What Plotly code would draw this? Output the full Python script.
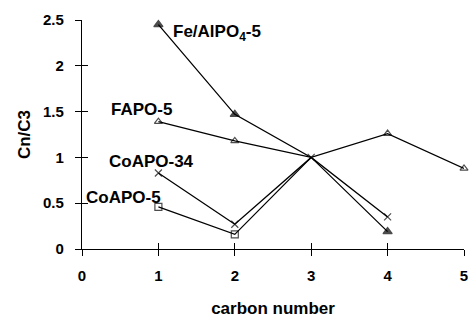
import plotly.graph_objects as go

carbon = [1, 2, 3, 4, 5]
fe_alpo = [2.45, 1.47, 1.0, 0.19]
fapo5 = [1.39, 1.18, 1.0, 1.26, 0.88]
coapo34 = [0.83, 0.27, 1.0, 0.35]
coapo5 = [0.46, 0.16, 1.0]

labels = ["Fe/AlPO<sub>4</sub>-5", "FAPO-5", "CoAPO-34", "CoAPO-5"]
label_pos = [(1.17, 2.36), (0.35, 1.52), (0.33, 0.95), (0.03, 0.565)]

FONT = "Liberation Sans, Arial, sans-serif"

fig = go.Figure()
series = [
    (fe_alpo, "triangle-up", [8, 8, 0, 8]),
    (fapo5, "triangle-up-open", [7, 7, 0, 7, 7]),
    (coapo34, "x-thin-open", [7, 7, 7, 7]),
    (coapo5, "square-open", [7, 7, 0]),
]
for ys, sym, sz in series:
    fig.add_trace(go.Scatter(
        x=carbon[:len(ys)], y=ys, mode="lines+markers",
        line=dict(color="black", width=1.3),
        marker=dict(symbol=sym, size=sz, color="black",
                    line=dict(color="black", width=1.2)),
        cliponaxis=False, showlegend=False,
    ))

# invisible trace for the overlay axes (inner half of crossing ticks)
fig.add_trace(go.Scatter(x=[0], y=[0], xaxis="x2", yaxis="y2",
                         mode="markers", marker=dict(opacity=0),
                         showlegend=False, hoverinfo="skip"))

for txt, (lx, ly) in zip(labels, label_pos):
    fig.add_annotation(x=lx, y=ly, text="<b>" + txt + "</b>", showarrow=False,
                       xanchor="left", yanchor="middle",
                       font=dict(family=FONT, size=17, color="black"))

fig.update_layout(
    width=474, height=320,
    margin=dict(l=82, r=6, t=20, b=70),
    plot_bgcolor="white", paper_bgcolor="white",
    font=dict(family=FONT, size=15, color="black"),
    xaxis=dict(range=[0, 5], tickvals=[0, 1, 2, 3, 4, 5],
               showgrid=False, zeroline=False, showline=True,
               linecolor="black", linewidth=1.3,
               ticks="outside", ticklen=6, tickwidth=1.2, tickcolor="black",
               ticklabelstandoff=7,
               tickfont=dict(family=FONT, size=15, color="black", weight="bold"),
               title=dict(text="<b>carbon number</b>", standoff=18,
                          font=dict(family=FONT, size=17, color="black"))),
    yaxis=dict(range=[0, 2.5], tickvals=[0, 0.5, 1, 1.5, 2, 2.5],
               showgrid=False, zeroline=False, showline=True,
               linecolor="black", linewidth=1.3,
               ticks="outside", ticklen=6, tickwidth=1.2, tickcolor="black",
               ticklabelstandoff=8,
               tickfont=dict(family=FONT, size=15, color="black", weight="bold"),
               title=dict(text="<b>Cn/C3</b>", standoff=8,
                          font=dict(family=FONT, size=17, color="black"))),
    xaxis2=dict(range=[0, 5], tickvals=[0, 1, 2, 3, 4, 5], overlaying="x",
                anchor="y2", side="bottom", showgrid=False, zeroline=False,
                showline=False, ticks="inside", ticklen=6, tickwidth=1.2,
                tickcolor="black", showticklabels=False),
    yaxis2=dict(range=[0, 2.5], tickvals=[0, 0.5, 1, 1.5, 2, 2.5],
                overlaying="y", anchor="x2", side="left", showgrid=False,
                zeroline=False, showline=False, ticks="inside", ticklen=6,
                tickwidth=1.2, tickcolor="black", showticklabels=False),
)

fig.write_html("out.html")
